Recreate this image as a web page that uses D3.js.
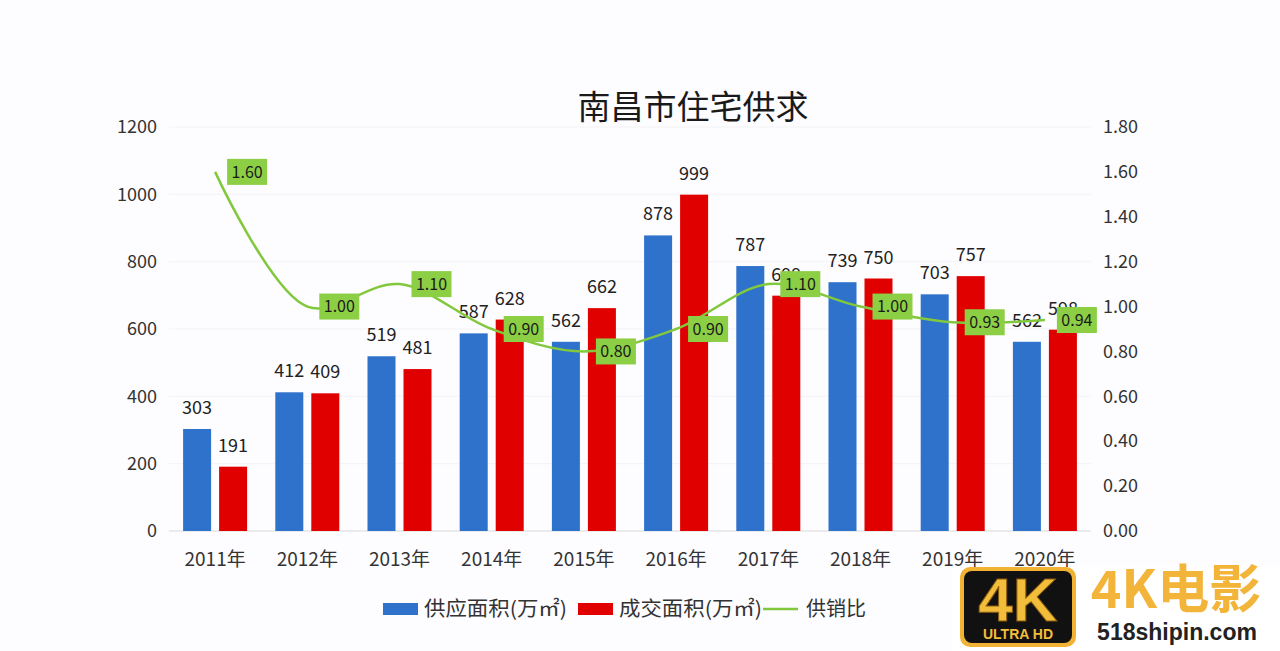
<!DOCTYPE html>
<html><head><meta charset="utf-8">
<script src="https://cdn.jsdelivr.net/npm/d3@7"></script>
<style>
html,body{margin:0;padding:0;background:#fdfcff;}
svg{display:block;font-family:"Noto Sans CJK SC","Noto Sans",sans-serif;}
</style></head>
<body>
<svg id="c" width="1280" height="651"></svg>
<script>
const years = ["2011年","2012年","2013年","2014年","2015年","2016年","2017年","2018年","2019年","2020年"];
const supply = [303,412,519,587,562,878,787,739,703,562];
const deal = [191,409,481,628,662,999,699,750,757,598];
const ratio = [1.60,1.00,1.10,0.90,0.80,0.90,1.10,1.00,0.93,0.94];
const leftTicks = [0,200,400,600,800,1000,1200];
const rightTicks = [0,0.2,0.4,0.6,0.8,1.0,1.2,1.4,1.6,1.8];
const seriesNames = ["供应面积(万㎡)","成交面积(万㎡)","供销比"];
const colors = {supply:"#2e72cc", deal:"#e00000", line:"#82c83c", box:"#8ccf45"};

const svg = d3.select("#c");
svg.append("rect").attr("width",1280).attr("height",651).attr("fill","#fdfcff");

const x = d3.scaleBand().domain(years).range([169,1091]).padding(0);
const yL = d3.scaleLinear().domain([0,1200]).range([531,127]);
const yR = d3.scaleLinear().domain([0,1.8]).range([531,127]);

// gridlines
svg.append("g").selectAll("line").data(leftTicks).join("line")
  .attr("x1",169).attr("x2",1091).attr("y1",d=>yL(d)).attr("y2",d=>yL(d))
  .attr("stroke",d=>d===0?"#d9d9d9":"#f3f2f6").attr("stroke-width",1);

// title
svg.append("text").attr("x",693).attr("y",119).attr("text-anchor","middle")
  .attr("font-size",33).attr("fill","#1a1a1a").text("南昌市住宅供求");

// left axis
const gL = svg.append("g").attr("transform","translate(169,0)")
  .call(d3.axisLeft(yL).tickValues(leftTicks).tickSize(0).tickPadding(12).tickFormat(d3.format("d")));
gL.select(".domain").remove();
gL.selectAll("text").attr("font-size",18).attr("fill","#333").attr("font-family","Noto Sans CJK SC");

// right axis
const gR = svg.append("g").attr("transform","translate(1091,0)")
  .call(d3.axisRight(yR).tickValues(rightTicks).tickSize(0).tickPadding(12).tickFormat(d3.format(".2f")));
gR.select(".domain").remove();
gR.selectAll("text").attr("font-size",18).attr("fill","#333").attr("font-family","Noto Sans CJK SC");

// x axis
const gX = svg.append("g").attr("transform","translate(0,531)")
  .call(d3.axisBottom(x).tickSize(0).tickPadding(22));
gX.select(".domain").remove();
gX.selectAll("text").attr("font-size",19).attr("fill","#333").attr("font-family","Noto Sans CJK SC");

const bw = 28, gap = 4;
const cx = d => x(d) + x.bandwidth()/2;

// bars
svg.append("g").selectAll("rect").data(years).join("rect")
  .attr("x",(d)=>cx(d)-gap-bw).attr("width",bw)
  .attr("y",(d,i)=>yL(supply[i])).attr("height",(d,i)=>yL(0)-yL(supply[i]))
  .attr("fill",colors.supply);
svg.append("g").selectAll("rect").data(years).join("rect")
  .attr("x",(d)=>cx(d)+gap).attr("width",bw)
  .attr("y",(d,i)=>yL(deal[i])).attr("height",(d,i)=>yL(0)-yL(deal[i]))
  .attr("fill",colors.deal);

// bar labels
svg.append("g").selectAll("text").data(years).join("text")
  .attr("x",d=>cx(d)-gap-bw/2).attr("y",(d,i)=>yL(supply[i])-15)
  .attr("text-anchor","middle").attr("font-size",18).attr("fill","#222")
  .text((d,i)=>supply[i]);
svg.append("g").selectAll("text").data(years).join("text")
  .attr("x",d=>cx(d)+gap+bw/2).attr("y",(d,i)=>yL(deal[i])-15)
  .attr("text-anchor","middle").attr("font-size",18).attr("fill","#222")
  .text((d,i)=>deal[i]);

// line
const line = d3.line().x((d,i)=>cx(years[i])).y(d=>yR(d)).curve(d3.curveCatmullRom.alpha(0.5));
svg.append("path").datum(ratio).attr("d",line).attr("fill","none")
  .attr("stroke",colors.line).attr("stroke-width",2.5);

// line labels
const lg = svg.append("g").selectAll("g").data(ratio).join("g")
  .attr("transform",(d,i)=>`translate(${cx(years[i])+32},${yR(d)})`);
lg.append("rect").attr("x",-20).attr("y",-13).attr("width",40).attr("height",26).attr("fill",colors.box);
lg.append("text").attr("text-anchor","middle").attr("dy","0.36em").attr("font-size",16).attr("fill","#1a1a1a")
  .text(d=>d.toFixed(2));

// legend
const leg = svg.append("g");
leg.append("rect").attr("x",383).attr("y",603).attr("width",35).attr("height",12).attr("fill",colors.supply);
leg.append("text").attr("x",424).attr("y",616).attr("font-size",20).attr("fill","#333")
  .attr("textLength",143).attr("lengthAdjust","spacingAndGlyphs").text(seriesNames[0]);
leg.append("rect").attr("x",578).attr("y",603).attr("width",35).attr("height",12).attr("fill",colors.deal);
leg.append("text").attr("x",619).attr("y",616).attr("font-size",20).attr("fill","#333")
  .attr("textLength",143).attr("lengthAdjust","spacingAndGlyphs").text(seriesNames[1]);
leg.append("line").attr("x1",763).attr("x2",798).attr("y1",609).attr("y2",609).attr("stroke",colors.line).attr("stroke-width",2.5);
leg.append("text").attr("x",806).attr("y",616).attr("font-size",20).attr("fill","#333").text(seriesNames[2]);

// watermark
const wm = svg.append("g");
wm.append("rect").attr("x",952).attr("y",567).attr("width",328).attr("height",84).attr("fill","#ffffff");
wm.append("rect").attr("x",960).attr("y",567).attr("width",116).attr("height",80).attr("rx",10).attr("fill","#f2b233");
wm.append("rect").attr("x",964).attr("y",571).attr("width",108).attr("height",72).attr("rx",8).attr("fill","#111");
wm.append("text").attr("x",1018).attr("y",621).attr("text-anchor","middle").attr("font-size",62).attr("font-weight","bold")
  .attr("font-family","Liberation Sans").attr("fill","#f2bd3a").attr("stroke","#8a5a10").attr("stroke-width",1).text("4K");
wm.append("text").attr("x",1018).attr("y",639).attr("text-anchor","middle").attr("font-size",14).attr("font-weight","bold")
  .attr("font-family","Liberation Sans").attr("fill","#f2bd3a").text("ULTRA HD");
wm.append("text").attr("x",1176).attr("y",608).attr("text-anchor","middle").attr("font-size",52).attr("font-weight","bold")
  .attr("fill","#f3b43a").text("4K电影");
wm.append("text").attr("x",1177).attr("y",640).attr("text-anchor","middle").attr("font-size",23).attr("font-weight","bold")
  .attr("font-family","Liberation Sans").attr("fill","#222").text("518shipin.com");
</script>
</body></html>
